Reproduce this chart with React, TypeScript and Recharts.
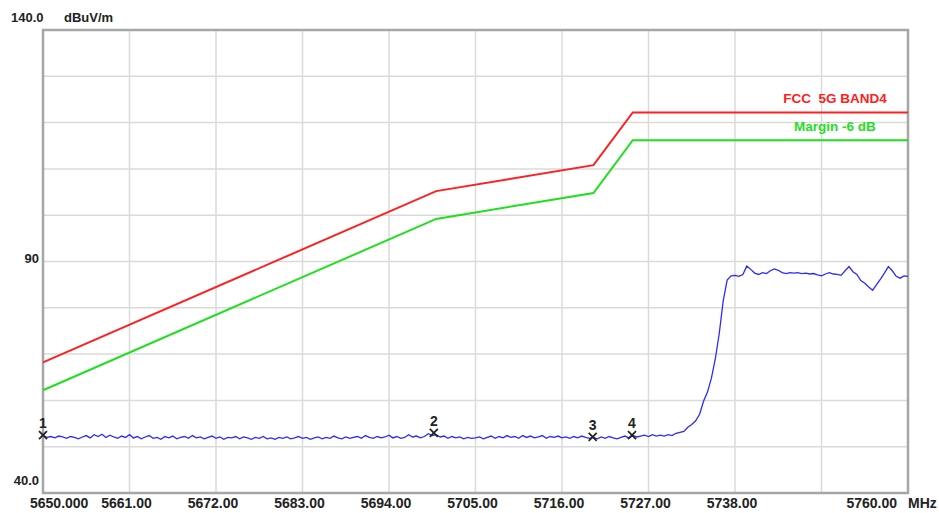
import { ComposedChart, Line, Scatter, XAxis, YAxis, CartesianGrid, ReferenceArea } from "recharts"

const freqTicks = [5650, 5661, 5672, 5683, 5694, 5705, 5716, 5727, 5738, 5749, 5760]
const levelTicks = [40, 50, 60, 70, 80, 90, 100, 110, 120, 130, 140]
const labelledLevels = [40, 90, 140]

// FCC limit breakpoints and the -6 dB margin
const limitFreq = [5650, 5700, 5720, 5725, 5760]
const limitLevel = [68.2, 105.2, 110.8, 122.2, 122.2]
const marginLevel = [62.2, 99.2, 104.8, 116.2, 116.2]

// measured trace, 0.5 MHz sweep step from 5650 MHz
const traceStart = 5650
const traceStep = 0.5
const traceLevel = [
  52.4, 52.0, 52.2, 51.9, 52.3, 52.1, 51.8, 52.2, 52.0, 51.7,
  52.1, 52.4, 51.9, 52.6, 52.2, 52.7, 52.0, 52.5, 52.1, 51.8,
  52.3, 52.0, 52.6, 51.9, 52.2, 51.7, 52.1, 52.4, 51.8, 52.0,
  51.6, 52.2, 51.9, 52.3, 51.7, 52.0, 52.2, 51.8, 52.4, 51.9,
  52.1, 51.7, 52.0, 52.3, 51.8, 52.1, 51.6, 52.0, 51.9, 52.2,
  51.7, 52.1, 51.9, 51.6, 52.0, 51.8, 52.2, 51.7, 51.9, 51.6,
  52.0, 51.8, 52.1, 51.7, 51.9, 52.2, 51.8, 52.0, 51.6, 51.9,
  52.1, 51.7, 52.0, 51.8, 52.3, 51.9, 51.7, 52.1, 51.8, 52.0,
  52.2, 51.8, 52.4, 52.0, 51.8, 52.2, 51.9, 52.1, 52.5, 51.9,
  52.2, 51.8, 52.0, 52.6, 52.1, 52.3, 51.9, 52.2, 52.8, 52.4,
  52.6, 52.1, 52.3, 51.8, 52.2, 51.9, 52.1, 51.7, 52.0, 51.8,
  51.9, 52.1, 51.7, 52.0, 52.3, 51.8, 52.2, 51.9, 52.4, 52.0,
  52.2, 51.8, 52.4, 52.0, 52.3, 51.9, 52.1, 52.4, 51.8, 52.2,
  52.0, 52.3, 51.9, 52.1, 51.8, 52.2, 51.9, 52.3, 52.0, 51.8,
  52.0, 51.7, 52.1, 51.8, 52.2, 51.9, 51.7, 52.0, 52.3, 51.9,
  52.4, 52.1, 52.3, 52.5, 52.2, 52.6, 52.3, 52.5,
  52.3, 52.6, 52.4, 52.9, 53.1, 53.3, 54.2, 54.8, 55.6, 57.0,
  59.8, 61.8, 64.8, 69.0, 74.5, 81.5, 86.0, 86.9, 87.0, 86.8,
  87.2, 89.0, 88.3, 87.5, 87.2, 87.6, 87.4, 88.0, 88.4, 88.1,
  87.6, 87.4, 87.6, 87.5, 87.6, 87.4, 87.5, 87.3, 87.4, 87.1,
  86.9, 87.3, 87.6, 87.3, 87.2, 87.0, 88.0, 88.9, 87.8, 87.2,
  85.9, 85.3, 84.5, 83.8, 85.0, 86.2, 87.5, 88.9, 88.0, 86.8,
  86.4, 86.9, 86.8,
]

const markerNames = ["1", "2", "3", "4"]
const markerFreq = [5650, 5699.7, 5719.9, 5724.9]
const markerLevel = [52.5, 53.0, 52.1, 52.5]

const limitData = limitFreq.map((freq, i) => ({ freq, level: limitLevel[i] }))
const marginData = limitFreq.map((freq, i) => ({ freq, level: marginLevel[i] }))
const traceData = traceLevel.map((level, i) => ({ freq: traceStart + i * traceStep, level }))
const markerData = markerNames.map((name, i) => ({ name, freq: markerFreq[i], level: markerLevel[i] }))

const FONT = "'Liberation Sans', Arial, sans-serif"
const TEXT = "#222"

function YTick({ x, y, payload }: any) {
  const v = payload.value
  if (!labelledLevels.includes(v)) return <g />
  const common = { fontFamily: FONT, fontWeight: 700, fontSize: 13, fill: TEXT }
  if (v === 140) {
    return (
      <g>
        <text x={x - 32} y={y - 8} textAnchor="start" {...common}>140.0</text>
        <text x={x + 21} y={y - 8} textAnchor="start" {...common}>dBuV/m</text>
      </g>
    )
  }
  if (v === 90) return <text x={x - 4} y={y + 1} textAnchor="end" {...common}>90</text>
  return <text x={x - 4} y={y - 8} textAnchor="end" {...common}>40.0</text>
}

function XTick({ x, y, payload, index }: any) {
  const v = payload.value
  const common = { fontFamily: FONT, fontWeight: 700, fontSize: 14, fill: TEXT }
  if (index === 0) return <text x={x - 13} y={y + 15} textAnchor="start" {...common}>{v.toFixed(3)}</text>
  if (v === 5749) return <g />
  if (v === 5760) {
    return (
      <g>
        <text x={x - 11} y={y + 15} textAnchor="end" {...common}>{v.toFixed(2)}</text>
        <text x={x} y={y + 15} textAnchor="start" {...common}>MHz</text>
      </g>
    )
  }
  return <text x={x - 3} y={y + 15} textAnchor="middle" {...common}>{v.toFixed(2)}</text>
}

function endLabel(text: string, color: string, count: number) {
  return (props: any) => {
    if (props.index !== count - 1) return <g key={props.index} />
    return (
      <text key={props.index} x={props.x - 73} y={props.y - 9} textAnchor="middle"
        fontFamily={FONT} fontWeight={700} fontSize={13.5} fill={color}>
        {text}
      </text>
    )
  }
}

function MarkerShape({ cx, cy, payload }: any) {
  return (
    <g>
      <line x1={cx - 4} y1={cy - 4} x2={cx + 4} y2={cy + 4} stroke="#222" strokeWidth={1.8} />
      <line x1={cx - 4} y1={cy + 4} x2={cx + 4} y2={cy - 4} stroke="#222" strokeWidth={1.8} />
      <text x={cx} y={cy - 7} textAnchor="middle" fontFamily={FONT} fontWeight={700} fontSize={14} fill="#222">
        {payload.name}
      </text>
    </g>
  )
}

export default function App() {
  return (
    <div style={{ position: "absolute", left: 0, top: 0, width: 939, height: 513, background: "#fff" }}>
      <ComposedChart width={939} height={513} margin={{ top: 30, right: 31, left: 0, bottom: 0 }}>
        <CartesianGrid stroke="#dadada" strokeWidth={1.5} />
        <XAxis
          dataKey="freq"
          type="number"
          domain={[5650, 5760]}
          ticks={freqTicks}
          interval={0}
          axisLine={false}
          tickLine={false}
          tickSize={0}
          tickMargin={0}
          height={20}
          tick={<XTick />}
        />
        <YAxis
          type="number"
          domain={[40, 140]}
          ticks={levelTicks}
          interval={0}
          axisLine={false}
          tickLine={false}
          tickSize={0}
          tickMargin={0}
          width={43}
          tick={<YTick />}
        />
        <Line data={traceData} dataKey="level" stroke="#2b2bff" strokeWidth={1.3} dot={false} isAnimationActive={false} />
        <Line data={marginData} dataKey="level" stroke="#1fe01f" strokeWidth={2} dot={false} isAnimationActive={false}
          label={endLabel("Margin -6 dB", "#1fe01f", marginData.length)} />
        <Line data={limitData} dataKey="level" stroke="#ff2020" strokeWidth={2} dot={false} isAnimationActive={false}
          label={endLabel("FCC\u00a0 5G BAND4", "#ff2020", limitData.length)} />
        <ReferenceArea x1={5650} x2={5760} y1={40} y2={140} fill="none" stroke="#a6a6a6" strokeWidth={2.5} />
        <Scatter data={markerData} dataKey="level" shape={<MarkerShape />} isAnimationActive={false} />
      </ComposedChart>
    </div>
  )
}
